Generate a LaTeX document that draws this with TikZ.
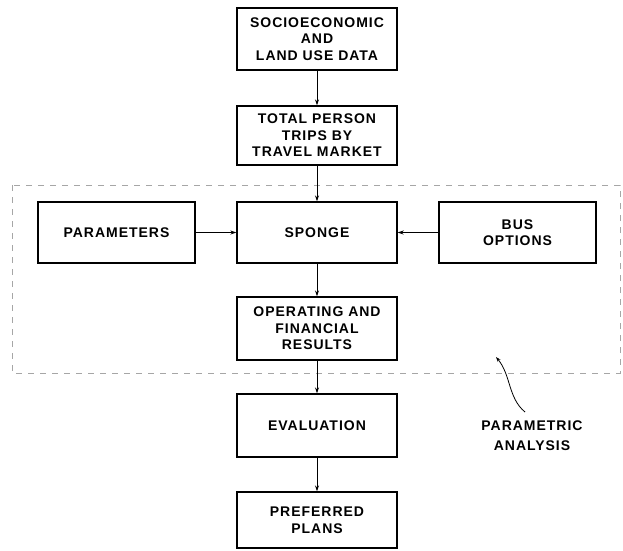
\documentclass[tikz,border=0pt]{standalone}
\usepackage{fontspec}
\setmainfont{Liberation Sans}[LetterSpace=7]
\usetikzlibrary{arrows.meta}
\begin{document}
\begin{tikzpicture}[x=1pt,y=-1pt,
  box/.style={draw,line width=1.4pt,minimum width=160pt,align=center,inner sep=0pt,
    font=\fontsize{14}{16.5}\selectfont\bfseries},
  conn/.style={line width=0.9pt,-{Stealth[length=6pt,width=4pt]}},
  lbl/.style={align=center,font=\fontsize{14}{20}\selectfont\bfseries}]
\useasboundingbox (0,0) rectangle (623,550);
\node[box,minimum height=62pt] (soc) at (317,39) {SOCIOECONOMIC\\AND\\LAND USE DATA};
\node[box,minimum height=59pt] (tot) at (317,135.5) {TOTAL PERSON\\TRIPS BY\\TRAVEL MARKET};
\node[box,minimum height=61pt,minimum width=157pt] (par) at (116.5,232.5) {PARAMETERS};
\node[box,minimum height=61pt] (spo) at (317,232.5) {SPONGE};
\node[box,minimum height=61pt,minimum width=157pt] (bus) at (517.5,232.5) {BUS\\OPTIONS};
\node[box,minimum height=63pt] (ope) at (317,328.5) {OPERATING AND\\FINANCIAL\\RESULTS};
\node[box,minimum height=63pt] (eva) at (317,425.5) {EVALUATION};
\node[box,minimum height=56pt] (pre) at (317,520) {PREFERRED\\PLANS};
\draw[line width=1pt,dashed,dash pattern=on 6pt off 6pt,gray!70] (12,185) rectangle (620,373);
\draw[conn] (soc) -- (tot);
\draw[conn] (tot) -- (spo);
\draw[conn] (par) -- (spo);
\draw[conn] (bus) -- (spo);
\draw[conn] (spo) -- (ope);
\draw[conn] (ope) -- (eva);
\draw[conn] (eva) -- (pre);
\node[lbl] (pa) at (532,436) {PARAMETRIC\\ANALYSIS};
\coordinate (pstart) at (525,412);
\coordinate (ptip) at (496,357);
\draw[line width=0.8pt,-{Stealth[length=5pt,width=3.5pt]}] (pstart) .. controls (508,398) and (511,375) .. (ptip);
\end{tikzpicture}
\end{document}
